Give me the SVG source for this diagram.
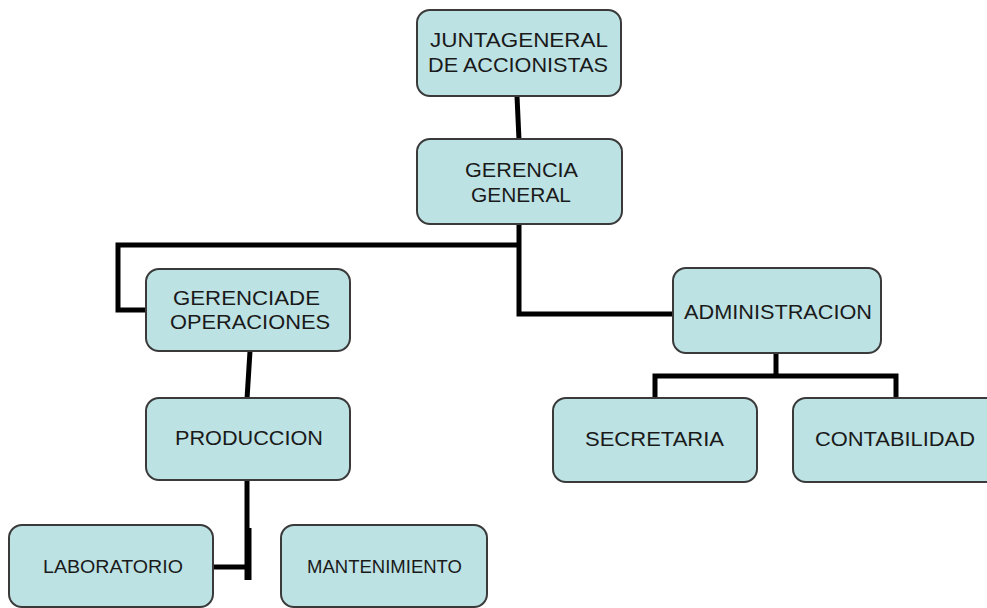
<svg xmlns="http://www.w3.org/2000/svg" width="987" height="608" viewBox="0 0 987 608">
<style>
.box{fill:#bde2e4;stroke:#3a3a3a;stroke-width:2}
.t{font-family:"Liberation Sans",Arial,sans-serif;font-size:20px;fill:#1a1a1a;lengthAdjust:spacingAndGlyphs}
.c{fill:none;stroke:#000;stroke-width:5;stroke-linecap:butt;stroke-linejoin:miter}
</style>
<rect width="987" height="608" fill="#fff"/>
<g id="connectors">
<path class="c" d="M517,96 L519,140"/>
<path class="c" d="M519,223 L519,314 L674,314"/>
<path class="c" d="M519,245 L118,245 L118,310 L146,310"/>
<path class="c" d="M250,351 L247,399"/>
<path class="c" d="M247,480 L247,580"/>
<path class="c" d="M249,528 L249,580"/>
<path class="c" d="M212,567 L247,567"/>
<path class="c" d="M776,352 L776,376"/>
<path class="c" d="M655,399 L655,376 L896,376 L896,399"/>
</g>
<g id="junta">
<rect class="box" x="417" y="10" width="204" height="86" rx="13"/>
<text class="t" x="430" y="47" textLength="178" lengthAdjust="spacingAndGlyphs">JUNTAGENERAL</text>
<text class="t" x="428" y="72" textLength="180" lengthAdjust="spacingAndGlyphs">DE ACCIONISTAS</text>
</g>
<g id="gerencia-general">
<rect class="box" x="417" y="139" width="205" height="85" rx="13"/>
<text class="t" x="465" y="177" textLength="113" lengthAdjust="spacingAndGlyphs">GERENCIA</text>
<text class="t" x="471" y="202" textLength="100" lengthAdjust="spacingAndGlyphs">GENERAL</text>
</g>
<g id="gerencia-operaciones">
<rect class="box" x="146" y="269" width="204" height="82" rx="13"/>
<text class="t" x="173" y="305" textLength="147" lengthAdjust="spacingAndGlyphs">GERENCIADE</text>
<text class="t" x="170" y="329" textLength="160" lengthAdjust="spacingAndGlyphs">OPERACIONES</text>
</g>
<g id="produccion">
<rect class="box" x="146" y="398" width="204" height="82" rx="13"/>
<text class="t" x="175" y="445" textLength="148" lengthAdjust="spacingAndGlyphs">PRODUCCION</text>
</g>
<g id="laboratorio">
<rect class="box" x="9" y="525" width="204" height="82" rx="13"/>
<text class="t" x="43" y="573" textLength="140" lengthAdjust="spacingAndGlyphs" style="font-size:18px">LABORATORIO</text>
</g>
<g id="mantenimiento">
<rect class="box" x="281" y="525" width="206" height="82" rx="13"/>
<text class="t" x="307" y="573" textLength="155" lengthAdjust="spacingAndGlyphs" style="font-size:18px">MANTENIMIENTO</text>
</g>
<g id="administracion">
<rect class="box" x="673" y="268" width="208" height="85" rx="13"/>
<text class="t" x="684" y="319" textLength="188" lengthAdjust="spacingAndGlyphs">ADMINISTRACION</text>
</g>
<g id="secretaria">
<rect class="box" x="553" y="398" width="204" height="84" rx="13"/>
<text class="t" x="585" y="446" textLength="139" lengthAdjust="spacingAndGlyphs">SECRETARIA</text>
</g>
<g id="contabilidad">
<rect class="box" x="793" y="398" width="206" height="84" rx="13"/>
<text class="t" x="815" y="446" textLength="160" lengthAdjust="spacingAndGlyphs">CONTABILIDAD</text>
</g>
</svg>
